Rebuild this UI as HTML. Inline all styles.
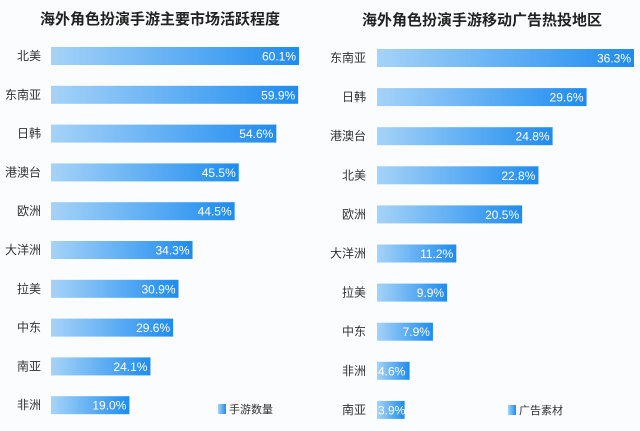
<!DOCTYPE html>
<html><head><meta charset="utf-8"><style>
body{margin:0;background:#fbfcfe;}
svg{display:block;font-family:"Liberation Sans","Noto Sans CJK SC",sans-serif;}
</style></head><body>
<svg id="c" width="640" height="431">
<defs><linearGradient id="g" x1="0" x2="1" y1="0" y2="0"><stop offset="0" stop-color="#a5d3f8"/><stop offset="1" stop-color="#1f8cf0"/></linearGradient></defs>
<text x="160" y="24" text-anchor="middle" font-size="15" font-weight="bold" fill="#222">海外角色扮演手游主要市场活跃程度</text>
<text x="482" y="25" text-anchor="middle" font-size="15" font-weight="bold" fill="#222">海外角色扮演手游移动广告热投地区</text>
<rect x="218" y="404" width="8" height="10" fill="url(#g)"/>
<text x="229" y="413" font-size="11" fill="#333">手游数量</text>
<rect x="508" y="405" width="8" height="10" fill="url(#g)"/>
<text x="519" y="414" font-size="11" fill="#333">广告素材</text>
</svg>
<script>
const leftCats=["北美","东南亚","日韩","港澳台","欧洲","大洋洲","拉美","中东","南亚","非洲"];
const leftVals=[60.1,59.9,54.6,45.5,44.5,34.3,30.9,29.6,24.1,19.0];
const rightCats=["东南亚","日韩","港澳台","北美","欧洲","大洋洲","拉美","中东","非洲","南亚"];
const rightVals=[36.3,29.6,24.8,22.8,20.5,11.2,9.9,7.9,4.6,3.9];
const svg=document.getElementById('c');
const NS="http://www.w3.org/2000/svg";
function draw(cats,vals,x0,scale,y0,step,labelX,side){
  cats.forEach((c,i)=>{
    const yc=y0+i*step, w=vals[i]*scale;
    const r=document.createElementNS(NS,'rect');
    r.setAttribute('x',x0);r.setAttribute('y',yc-9);r.setAttribute('width',w);r.setAttribute('height',18);r.setAttribute('fill','url(#g)');
    
    
    svg.appendChild(r);
    const l=document.createElementNS(NS,'text');
    l.setAttribute('x',labelX);l.setAttribute('y',yc+4);l.setAttribute('text-anchor','end');l.setAttribute('font-size','12');l.setAttribute('fill','#333');
    l.textContent=c;
    
    
    svg.appendChild(l);
    const v=document.createElementNS(NS,'text');
    const narrow=w<34;
    v.setAttribute('x',narrow?x0+1:x0+w-3);v.setAttribute('y',yc+4.5);v.setAttribute('text-anchor',narrow?'start':'end');v.setAttribute('font-size','12');v.setAttribute('fill','#fff');
    v.textContent=vals[i].toFixed(1)+'%';
    
    
    svg.appendChild(v);
  });
}
draw(leftCats,leftVals,51,248/60.1,56,38.8,41,'left');
draw(rightCats,rightVals,377,257/36.3,58,39.1,366,'right');
</script>
</body></html>
